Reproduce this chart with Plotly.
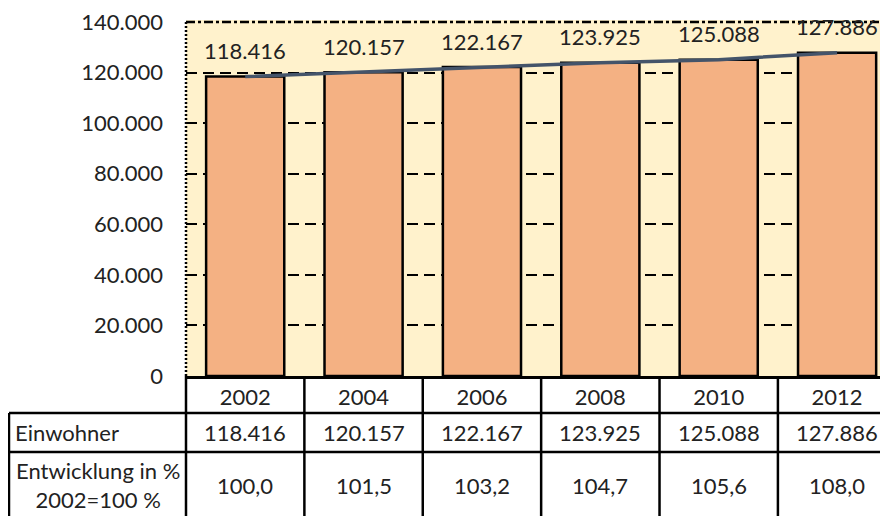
import plotly.graph_objects as go

years = ["2002", "2004", "2006", "2008", "2010", "2012"]
einwohner = [118416, 120157, 122167, 123925, 125088, 127886]
entwicklung = [100.0, 101.5, 103.2, 104.7, 105.6, 108.0]
y_ticks = [0, 20000, 40000, 60000, 80000, 100000, 120000, 140000]
y_ticktext = ["0", "20.000", "40.000", "60.000", "80.000", "100.000", "120.000", "140.000"]
row_labels = ["Einwohner", "Entwicklung in %<br>2002=100 %"]

FONT = "Lato"
FS = 22
TXT = "#222222"
OFF = 8            # default body margin of the html page
W, H = 888, 516    # screen size
L, T, B = 186, 22, 376   # plot area in screen pixels


def de_int(v):
    return f"{v:,.0f}".replace(",", ".")


def de_dec(v):
    return f"{v:.1f}".replace(".", ",")


def py(p):
    return (B - p) / (B - T)


def px(p):
    return (p - L) / (W - L)


fig = go.Figure()
fig.add_trace(go.Bar(
    x=years, y=einwohner,
    marker=dict(color="#F4B183", line=dict(color="black", width=2.5)),
    hoverinfo="skip", showlegend=False,
))
fig.add_trace(go.Scatter(
    x=years, y=einwohner, mode="lines",
    line=dict(color="#44546A", width=3.5),
    showlegend=False, hoverinfo="skip",
))

shapes = []
shapes.append(dict(type="line", xref="paper", yref="paper", x0=0, x1=1, y0=1, y1=1,
                   line=dict(color="#FFF2CC", width=4), layer="above"))
shapes.append(dict(type="line", xref="paper", yref="paper", x0=0, x1=1, y0=1, y1=1,
                   line=dict(color="black", width=2.5, dash="9px,3px,3px,3px"), layer="above"))
shapes.append(dict(type="line", xref="paper", yref="paper", x0=0, x1=0, y0=0, y1=1,
                   line=dict(color="black", width=2.5, dash="2px,2px"), layer="above"))

y413, y452, ybot = py(413), py(452), py(530)
for yy in (y413, y452):
    shapes.append(dict(type="line", xref="paper", yref="paper", x0=px(9), x1=1.05, y0=yy, y1=yy,
                       line=dict(color="black", width=2.5)))
shapes.append(dict(type="line", xref="paper", yref="paper", x0=px(9), x1=px(9), y0=y413, y1=ybot,
                   line=dict(color="black", width=2.5)))
shapes.append(dict(type="line", xref="paper", yref="paper", x0=0, x1=0, y0=0, y1=ybot,
                   line=dict(color="black", width=2.5)))
for i in range(1, len(years)):
    shapes.append(dict(type="line", xref="x", yref="paper", x0=i - 0.5, x1=i - 0.5, y0=0, y1=ybot,
                       line=dict(color="black", width=2.5)))

tf = dict(family=FONT, size=FS, color=TXT)
ann = []
for i, v in enumerate(einwohner):
    ann.append(dict(x=i, xref="x", y=v, yref="y", text=de_int(v), yshift=26,
                    xanchor="center", yanchor="middle", showarrow=False, font=tf))
    ann.append(dict(x=i, xref="x", y=py(432.5), yref="paper", text=de_int(v),
                    xanchor="center", yanchor="middle", showarrow=False, font=tf))
    ann.append(dict(x=i, xref="x", y=py(485), yref="paper", text=de_dec(entwicklung[i]),
                    xanchor="center", yanchor="middle", showarrow=False, font=tf))
ann.append(dict(x=px(13), xref="paper", y=py(432.5), yref="paper", text=row_labels[0],
                xanchor="left", yanchor="middle", showarrow=False, font=tf))
ann.append(dict(x=px(97.5), xref="paper", y=py(485), yref="paper", text=row_labels[1],
                xanchor="center", yanchor="middle", align="center", showarrow=False, font=tf))

fig.update_layout(
    width=W - OFF, height=H - OFF,
    margin=dict(l=L - OFF, r=0, t=T - OFF, b=H - B, pad=0),
    paper_bgcolor="white", plot_bgcolor="#FFF2CC",
    bargap=0.34, separators=",.",
    shapes=shapes, annotations=ann,
    font=tf,
)
fig.update_xaxes(
    type="category", range=[-0.5, 5.43],
    showline=True, linecolor="black", linewidth=2.5,
    showgrid=False, ticks="", ticklabelstandoff=0,
    tickfont=tf,
)
fig.update_yaxes(
    range=[0, 140000], tickvals=y_ticks, ticktext=y_ticktext,
    showgrid=True, gridcolor="black", gridwidth=2, griddash="11px,6px",
    zeroline=False, showline=False, ticks="", ticklabelstandoff=22,
    ticklabeloverflow="allow", tickfont=tf,
)

fig.write_html("out.html")
